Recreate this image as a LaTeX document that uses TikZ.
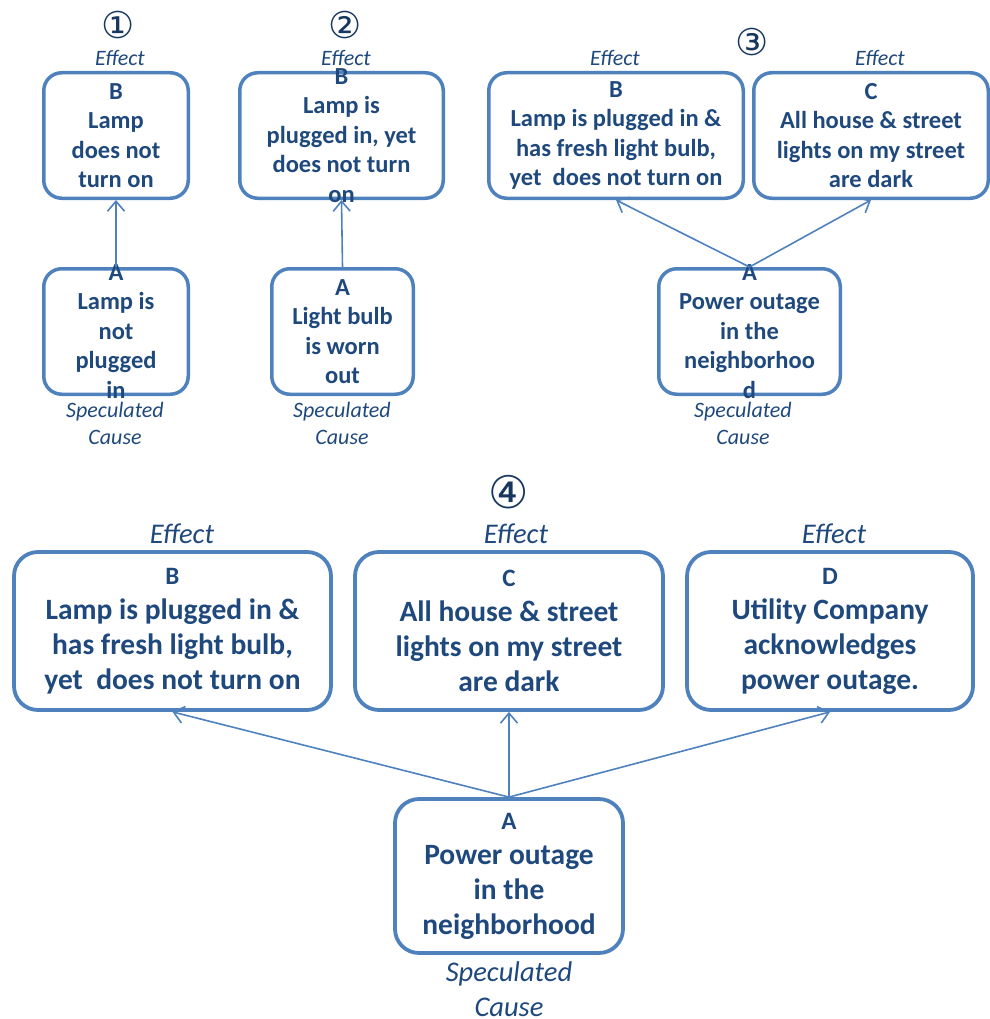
\documentclass[tikz,border=0pt]{standalone}
\usepackage{fontspec}
\setmainfont{Carlito}
\newfontfamily\circfont{DejaVu Sans}
\usetikzlibrary{positioning}
\usetikzlibrary{arrows.meta}
\definecolor{boxblue}{HTML}{4F81BD}
\definecolor{txtblue}{HTML}{1F497D}
\definecolor{numblue}{HTML}{17375E}
\tikzset{%
  effarrow/.style = {-{Straight Barb[length=10pt,width=17pt]},
        draw=boxblue, line width=1.6pt},
  sbox/.style = {rectangle, rounded corners=18pt, draw=boxblue,
        line width=3.5pt, minimum height=125.5pt},
  lbox/.style = {rectangle, rounded corners=24pt, draw=boxblue,
        line width=3.8pt},
  stxt/.style = {text=txtblue, align=center,
        font=\bfseries\fontsize{24.5}{29.5}\selectfont},
  ltxt/.style = {text=txtblue, align=center,
        font=\bfseries\fontsize{29.5}{35}\selectfont},
  slab/.style = {text=txtblue, align=center,
        font=\itshape\fontsize{22}{27}\selectfont},
  llab/.style = {text=txtblue, align=center,
        font=\itshape\fontsize{28.5}{35}\selectfont},
  num/.style = {text=numblue, font=\circfont\fontsize{37}{37}\selectfont}
}

\begin{document}
\begin{tikzpicture}[x=1pt, y=-1pt]
   \useasboundingbox (0,0) rectangle (989,1019);

   % case 1
   \node[num] (n1) at (118,25) {①};
   \node[sbox, minimum width=144.5pt] (b1) at (116,135.5) {};
   \node[sbox, minimum width=144.5pt] (a1) at (116,331.5) {};
   \node[stxt] (b1t) at (b1.center) {B\\Lamp\\does not\\turn on};
   \node[stxt] (a1t) at (a1.center) {A\\Lamp is\\not\\plugged\\in};
   \node[slab] (e1) at (120,58) {Effect};
   \node[slab] (s1) at (115,423.5) {Speculated\\Cause};
   \draw[effarrow] (a1.north) -- (b1.south);

   % case 2
   \node[num] (n2) at (345,25) {②};
   \node[sbox, minimum width=203.5pt] (b2) at (341.5,135.5) {};
   \node[sbox, minimum width=141.5pt] (a2) at (342.5,331.5) {};
   \node[stxt] (b2t) at (b2.center) {B\\Lamp is\\plugged in, yet\\does not turn\\on};
   \node[stxt] (a2t) at (a2.center) {A\\Light bulb\\is worn\\out};
   \node[slab] (e2) at (346,58) {Effect};
   \node[slab] (s2) at (342,423.5) {Speculated\\Cause};
   \draw[effarrow] (a2.north) -- (b2.south);

   % case 3
   \node[num] (n3) at (752,42) {③};
   \node[sbox, minimum width=254.5pt] (b3) at (616,135.5) {};
   \node[sbox, minimum width=234.5pt] (c3) at (871,135.5) {};
   \node[sbox, minimum width=181.5pt] (a3) at (749.5,331.5) {};
   \node[stxt] (b3t) at (b3.center) {B\\Lamp is plugged in \&\\has fresh light bulb,\\yet\ \ does not turn on};
   \node[stxt] (c3t) at (c3.center) {C\\All house \& street\\lights on my street\\are dark};
   \node[stxt] (a3t) at (a3.center) {A\\Power outage\\in the\\neighborhoo\\d};
   \node[slab] (e3b) at (615,58) {Effect};
   \node[slab] (e3c) at (880,58) {Effect};
   \node[slab] (s3) at (743,423.5) {Speculated\\Cause};
   \draw[effarrow] (a3.north) -- (b3.south);
   \draw[effarrow] (a3.north) -- (c3.south);

   % case 4
   \node[num, font=\circfont\fontsize{45}{45}\selectfont] (n4) at (509,492) {④};
   \node[lbox, minimum width=317pt, minimum height=158pt] (b4) at (172.5,631) {};
   \node[lbox, minimum width=308pt, minimum height=158pt] (c4) at (509,631) {};
   \node[lbox, minimum width=286pt, minimum height=158pt] (d4) at (830,631) {};
   \node[lbox, minimum width=228pt, minimum height=154pt] (a4) at (509,876) {};
   \node[ltxt] (b4t) at (b4.center) {{\fontsize{25}{35}\selectfont B}\\Lamp is plugged in \&\\has fresh light bulb,\\yet\ \ does not turn on};
   \node[ltxt] (c4t) at (c4.center) {{\fontsize{25}{35}\selectfont C}\\All house \& street\\lights on my street\\are dark};
   \node[ltxt] (d4t) at (d4.center) {{\fontsize{25}{35}\selectfont D}\\Utility Company\\acknowledges\\power outage.};
   \node[ltxt] (a4t) at (a4.center) {{\fontsize{25}{35}\selectfont A}\\Power outage\\in the\\neighborhood};
   \node[llab] (e4b) at (182,534) {Effect};
   \node[llab] (e4c) at (516,534) {Effect};
   \node[llab] (e4d) at (834,534) {Effect};
   \node[llab] (s4) at (509,989.5) {Speculated\\Cause};
   \draw[effarrow] (a4.north) -- (b4.south);
   \draw[effarrow] (a4.north) -- (c4.south);
   \draw[effarrow] (a4.north) -- (d4.south);
\end{tikzpicture}
\end{document}
